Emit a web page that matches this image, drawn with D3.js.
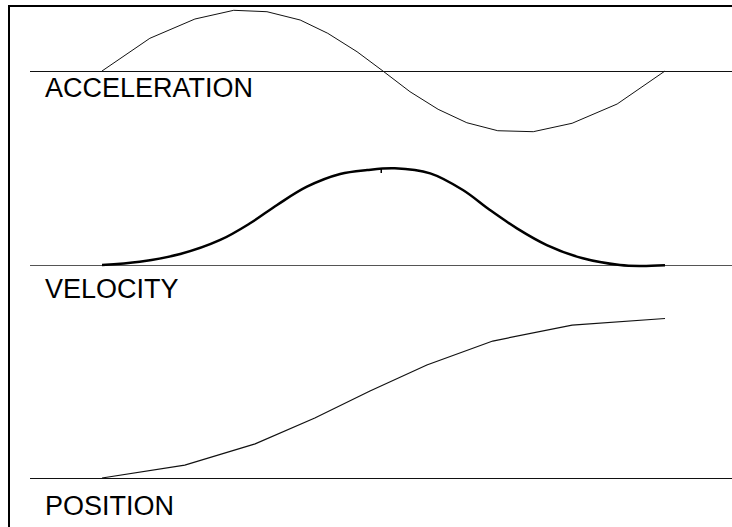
<!DOCTYPE html>
<html>
<head>
<meta charset="utf-8">
<script src="https://cdn.jsdelivr.net/npm/d3@7"></script>
<style>
  body { margin: 0; background: #fff; overflow: hidden; }
  svg { display: block; }
</style>
</head>
<body>
<script>
// time samples (0..100) and values
var accTime = [0, 8.5, 16.5, 23.4, 29.3, 35.2, 40.1, 45.3, 49.9, 54.7, 59.7, 64.8, 70.3, 76.6, 83.5, 91.5, 100];
var accValues = [0, 0.536, 0.852, 0.995, 0.972, 0.836, 0.618, 0.316, 0, -0.339, -0.628, -0.848, -0.979, -0.995, -0.857, -0.541, 0];

var velTime = [0, 6.7, 13.9, 21.0, 26.3, 31.1, 36.4, 42.3, 47.1, 52.0, 58.3, 64.1, 68.9, 73.7, 79.0, 85.4, 92.0, 95.6, 100];
var velValues = [0, 0.034, 0.113, 0.258, 0.43, 0.619, 0.807, 0.938, 0.979, 0.997, 0.945, 0.773, 0.567, 0.378, 0.206, 0.069, 0, -0.01, -0.003];

var posTime = [0, 14.7, 27.2, 37.8, 47.6, 57.7, 69.4, 83.5, 100];
var posValues = [0, 0.081, 0.213, 0.375, 0.544, 0.706, 0.856, 0.956, 0.997];

var labels = ["ACCELERATION", "VELOCITY", "POSITION"];

var width = 732, height = 527;

var svg = d3.select("body").append("svg")
    .attr("width", width)
    .attr("height", height);

var x = d3.scaleLinear().domain([0, 100]).range([102, 665]);

// one vertical scale per band
var yAcc = d3.scaleLinear().domain([-1, 1]).range([132, 10]);
var yVel = d3.scaleLinear().domain([0, 1]).range([265, 168]);
var yPos = d3.scaleLinear().domain([0, 1]).range([478, 318]);

// frame: only the left and top edges show
svg.append("line")
    .attr("x1", 9).attr("y1", 5)
    .attr("x2", 9).attr("y2", height)
    .attr("stroke", "#000")
    .attr("stroke-width", 2);
svg.append("line")
    .attr("x1", 8).attr("y1", 6)
    .attr("x2", width).attr("y2", 6)
    .attr("stroke", "#000")
    .attr("stroke-width", 2);

// baselines
var baselines = [
  { y: yAcc(0), color: "#111" },
  { y: yVel(0), color: "#555" },
  { y: yPos(0), color: "#111" }
];
svg.selectAll("line.base")
  .data(baselines)
  .enter().append("line")
    .attr("class", "base")
    .attr("x1", 30)
    .attr("x2", width)
    .attr("y1", function (d) { return Math.round(d.y) + 0.5; })
    .attr("y2", function (d) { return Math.round(d.y) + 0.5; })
    .attr("stroke", function (d) { return d.color; })
    .attr("stroke-width", 1);

// acceleration: straight segments
var accLine = d3.line()
    .x(function (d, i) { return x(accTime[i]); })
    .y(function (d) { return yAcc(d); });

svg.append("path")
    .attr("d", accLine(accValues))
    .attr("fill", "none")
    .attr("stroke", "#111")
    .attr("stroke-width", 1);

// velocity: smooth, heavier
var velLine = d3.line()
    .x(function (d, i) { return x(velTime[i]); })
    .y(function (d) { return yVel(d); })
    .curve(d3.curveCatmullRom.alpha(0.5));

svg.append("path")
    .attr("d", velLine(velValues))
    .attr("fill", "none")
    .attr("stroke", "#000")
    .attr("stroke-width", 2.5);

// little tick near the velocity peak
svg.append("line")
    .attr("x1", x(49.6))
    .attr("x2", x(49.6))
    .attr("y1", yVel(0.99))
    .attr("y2", yVel(0.99) + 4)
    .attr("stroke", "#000")
    .attr("stroke-width", 1.5);

// position: straight segments
var posLine = d3.line()
    .x(function (d, i) { return x(posTime[i]); })
    .y(function (d) { return yPos(d); });

svg.append("path")
    .attr("d", posLine(posValues))
    .attr("fill", "none")
    .attr("stroke", "#111")
    .attr("stroke-width", 1.2);

// band labels
var labelY = [97, 298, 515];
svg.selectAll("text.label")
  .data(labels)
  .enter().append("text")
    .attr("class", "label")
    .attr("x", 45)
    .attr("y", function (d, i) { return labelY[i]; })
    .attr("font-family", "'Liberation Sans', Arial, sans-serif")
    .attr("font-size", 27)
    .attr("fill", "#000")
    .text(function (d) { return d; });
</script>
</body>
</html>
